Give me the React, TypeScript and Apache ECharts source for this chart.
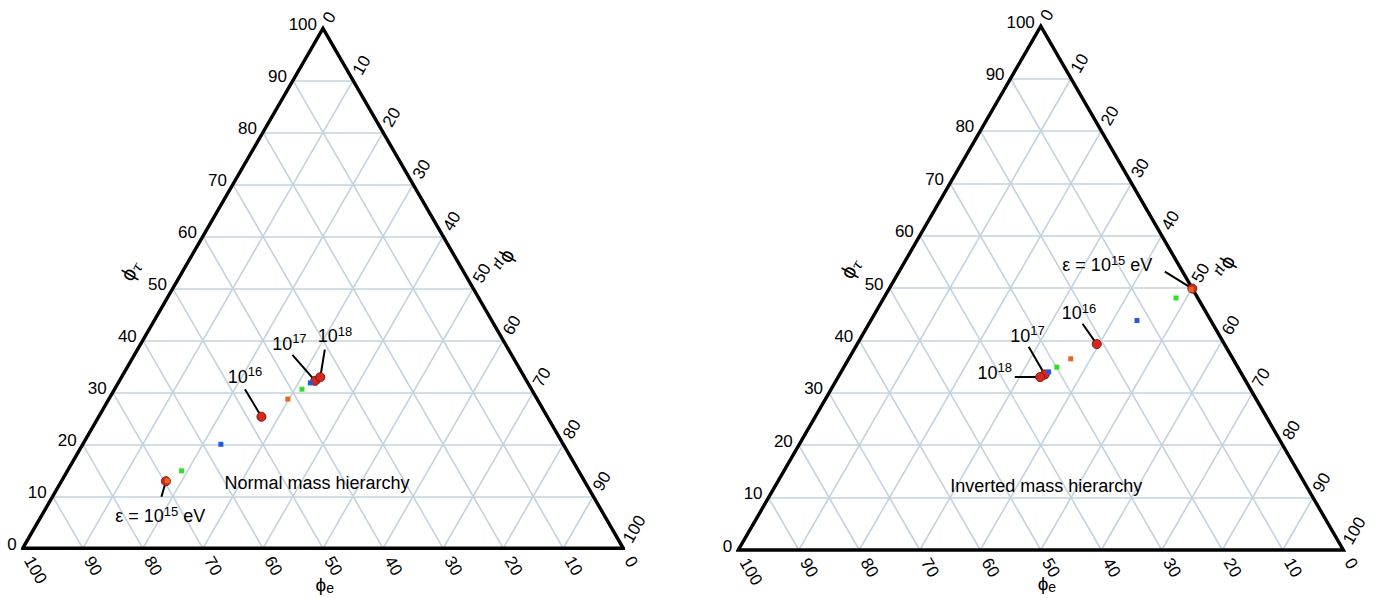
import { useEffect, useRef } from 'react';
import * as echarts from 'echarts';

// ---------- data ----------
const TICK_VALUES = [0, 10, 20, 30, 40, 50, 60, 70, 80, 90, 100];
const GRID_LEVELS = [10, 20, 30, 40, 50, 60, 70, 80, 90];

// flavour compositions [phi_e, phi_mu, phi_tau] in %
// decade energies 1e15, 1e16, 1e17, 1e18 (red circles)
const NORMAL_DECADE = [[69.7, 17.4, 12.9], [47.6, 27.1, 25.3], [35.2, 32.6, 32.2], [34.0, 33.1, 32.9]];
const NORMAL_ORANGE = [[69.4, 17.6, 13.0], [41.5, 29.8, 28.7]];
const NORMAL_GREEN = [[66.1, 19.0, 14.9], [38.2, 31.2, 30.6]];
const NORMAL_BLUE = [[57.0, 23.0, 20.0], [36.2, 32.0, 31.8]];

const INVERTED_DECADE = [[0.0, 50.1, 49.9], [21.1, 39.6, 39.3], [32.6, 33.9, 33.5], [33.6, 33.4, 33.0]];
const INVERTED_ORANGE = [[0.3, 50.0, 49.7], [26.8, 36.7, 36.5]];
const INVERTED_GREEN = [[3.6, 48.3, 48.1], [29.9, 35.2, 34.9]];
const INVERTED_BLUE = [[12.2, 44.0, 43.8], [31.7, 34.3, 34.0]];

const ENERGY_LABELS = ['{m|ε = 10}{s|15}{m| eV}', '{m|10}{s|16}', '{m|10}{s|17}', '{m|10}{s|18}'];
const PANEL_TITLES = ['Normal mass hierarchy', 'Inverted mass hierarchy'];
const AXIS_NAMES = ['{p|ϕ}{t|τ}', '{p|ϕ}{t|μ}', '{q|ϕ}{e|e}'];

// ---------- layout (plot units: x 0..100 along base, y 0..86.6 up) ----------
const S = Math.sqrt(3) / 2;
const PANELS = [
  {
    grid: { left: 22.7, top: 28.3, width: 600.6, height: 520 },
    decade: NORMAL_DECADE, orange: NORMAL_ORANGE, green: NORMAL_GREEN, blue: NORMAL_BLUE,
    labelPos: [[22.9, 5.3], [37.0, 28.6], [44.4, 34.1], [52.0, 35.3]],
    leaderFrom: [[23.1, 8.6], [37.0, 26.5], [44.9, 32.2], [50.3, 33.1]],
    titlePos: [49.0, 10.9],
    axisNamePos: [[17.9, 46.3], [80.6, 47.7], [50.3, -6.1]],
  },
  {
    grid: { left: 738.3, top: 26.1, width: 605, height: 523.9 },
    decade: INVERTED_DECADE, orange: INVERTED_ORANGE, green: INVERTED_GREEN, blue: INVERTED_BLUE,
    labelPos: [[61.0, 47.1], [56.3, 39.1], [47.8, 35.4], [42.4, 29.3]],
    leaderFrom: [[70.5, 46.0], [56.9, 37.4], [48.0, 33.6], [45.7, 28.6]],
    titlePos: [50.9, 10.6],
    axisNamePos: [[18.5, 46.6], [80.9, 46.6], [51.0, -5.6]],
  },
];

const FONT = 'Arial, "Liberation Sans", Helvetica, sans-serif';

function toXY(c: number[]): number[] {
  const [e, mu, tau] = c;
  const t = e + mu + tau;
  const m = (mu / t) * 100;
  const ta = (tau / t) * 100;
  return [m + ta / 2, ta * S];
}

function buildSeries(i: number) {
  const p = PANELS[i];
  const ax = { xAxisIndex: i, yAxisIndex: i };
  const series: any[] = [];

  // grid lines
  const segs: number[][][] = [];
  GRID_LEVELS.forEach((k) => {
    segs.push([[k / 2, k * S], [100 - k / 2, k * S]]); // const tau
    segs.push([[k, 0], [k + (100 - k) / 2, (100 - k) * S]]); // const mu
    segs.push([[100 - k, 0], [(100 - k) / 2, (100 - k) * S]]); // const e
  });
  series.push({
    type: 'lines', coordinateSystem: 'cartesian2d', ...ax, silent: true, z: 1,
    lineStyle: { color: '#c5d2de', width: 1.6, opacity: 1 },
    data: segs.map((c) => ({ coords: c })),
  });

  // triangle outline
  series.push({
    type: 'line', ...ax, symbol: 'none', silent: true, z: 3, clip: false,
    lineStyle: { color: '#000', width: 3.4, join: 'miter' },
    data: [[0, 0], [100, 0], [50, 100 * S], [0, 0], [100, 0]],
  });

  // leader lines
  series.push({
    type: 'lines', coordinateSystem: 'cartesian2d', ...ax, silent: true, z: 4,
    lineStyle: { color: '#000', width: 2, opacity: 1 },
    data: p.decade.map((c, j) => ({ coords: [p.leaderFrom[j], toXY(c)] })),
  });

  // markers
  series.push({
    type: 'scatter', ...ax, z: 5, clip: false, symbol: 'circle', symbolSize: 9,
    itemStyle: { color: '#d8281c', borderColor: '#7a1510', borderWidth: 1, opacity: 1 },
    data: p.decade.map(toXY),
  });
  const sq = (data: number[][], color: string) => ({
    type: 'scatter', ...ax, z: 6, clip: false, symbol: 'rect', symbolSize: 5,
    itemStyle: { color, opacity: 1 }, data: data.map(toXY),
  });
  series.push(sq(p.orange, '#e8651f'));
  series.push(sq(p.green, '#2ee02a'));
  series.push(sq(p.blue, '#1f5be0'));

  const textSeries = (data: any[], label: any) => ({
    type: 'scatter', ...ax, z: 7, clip: false, symbol: 'circle', symbolSize: 0, silent: true,
    itemStyle: { color: 'rgba(0,0,0,0)' },
    label: {
      show: true, position: 'inside', color: '#000', opacity: 1, textBorderWidth: 0,
      fontFamily: FONT, formatter: (q: any) => q.name, ...label,
    },
    data,
  });

  // energy annotations
  series.push(textSeries(
    ENERGY_LABELS.map((n, j) => ({ name: n, value: p.labelPos[j] })),
    {
      align: 'center', verticalAlign: 'middle',
      rich: {
        m: { fontSize: 18, lineHeight: 23, fontFamily: FONT, color: '#000' },
        s: { fontSize: 13, lineHeight: 13, verticalAlign: 'top', fontFamily: FONT, color: '#000' },
      },
    },
  ));

  // panel title
  series.push(textSeries([{ name: PANEL_TITLES[i], value: p.titlePos }], {
    align: 'center', verticalAlign: 'middle', fontSize: 18,
  }));

  // tick labels: phi_tau on left edge
  series.push(textSeries(
    TICK_VALUES.map((k) => ({ name: String(k), value: [k / 2, k * S] })),
    { align: 'right', verticalAlign: 'middle', fontSize: 17, offset: [-6, -4] },
  ));
  // phi_mu on right edge
  series.push(textSeries(
    TICK_VALUES.map((k) => ({ name: String(k), value: [50 + k / 2, (100 - k) * S] })),
    { align: 'left', verticalAlign: 'middle', fontSize: 17, rotate: 60, padding: [0, 0, 0, 8] },
  ));
  // phi_e on base
  series.push(textSeries(
    TICK_VALUES.map((k) => ({ name: String(k), value: [100 - k, 0] })),
    { align: 'left', verticalAlign: 'middle', fontSize: 17, rotate: -60, padding: [0, 0, 0, 11] },
  ));

  // axis names
  const nameRich = {
    p: { fontSize: 21, fontFamily: FONT, color: '#000', lineHeight: 24 },
    t: { fontSize: 15, fontStyle: 'italic', fontFamily: 'DejaVu Serif, serif', color: '#000', verticalAlign: 'bottom', lineHeight: 14 },
    q: { fontSize: 19, fontFamily: FONT, color: '#000', lineHeight: 20 },
    e: { fontSize: 14, fontFamily: FONT, color: '#000', verticalAlign: 'bottom', lineHeight: 12 },
  };
  const rots = [60, -120, 0];
  AXIS_NAMES.forEach((n, j) => {
    series.push(textSeries([{ name: n, value: p.axisNamePos[j] }], {
      align: 'center', verticalAlign: 'middle', rotate: rots[j], rich: nameRich,
    }));
  });

  return series;
}

export default function App() {
  const ref = useRef<HTMLDivElement>(null);
  useEffect(() => {
    if (!ref.current) return;
    const chart = echarts.init(ref.current, undefined, { renderer: 'svg' });
    const option: any = {
      animation: false,
      backgroundColor: '#fff',
      grid: PANELS.map((p) => ({ ...p.grid, containLabel: false })),
      xAxis: PANELS.map((_, i) => ({ type: 'value', gridIndex: i, min: 0, max: 100, show: false })),
      yAxis: PANELS.map((_, i) => ({ type: 'value', gridIndex: i, min: 0, max: 100 * S, show: false })),
      series: [...buildSeries(0), ...buildSeries(1)],
    };
    chart.setOption(option);
    return () => chart.dispose();
  }, []);
  return (
    <div
      ref={ref}
      style={{ position: 'absolute', left: 0, top: 0, width: 1382, height: 598 }}
    />
  );
}
